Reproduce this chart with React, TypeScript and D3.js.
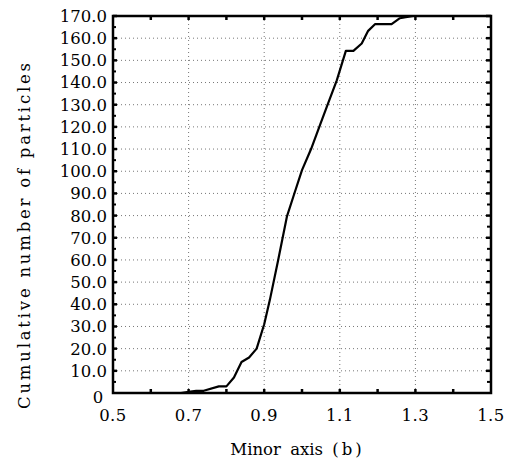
import React from "react";
import * as d3 from "d3";

const xValues = [0.5, 0.68, 0.70, 0.72, 0.74, 0.78, 0.80, 0.82, 0.84, 0.86, 0.88, 0.90, 0.915, 0.937, 0.96, 0.977, 1.0, 1.024, 1.048, 1.07, 1.092, 1.116, 1.136, 1.158, 1.175, 1.193, 1.237, 1.259, 1.294, 1.5];
const yValues = [0, 0, 0.5, 1, 1, 3, 3, 7, 14, 16, 20, 31, 42, 60, 79.5, 88.5, 100.5, 110, 121, 131, 141, 154.3, 154.3, 157.6, 163.3, 166.3, 166.3, 169, 170, 170];
const xTickLabels = [0.5, 0.7, 0.9, 1.1, 1.3, 1.5];
const xMinorTicks = [0.6, 0.7, 0.8, 0.9, 1.0, 1.1, 1.2, 1.3, 1.4];
const yTickLabels = [10, 20, 30, 40, 50, 60, 70, 80, 90, 100, 110, 120, 130, 140, 150, 160, 170];
const yMinorTicks = [5, 15, 25, 35, 45, 55, 65, 75, 85, 95, 105, 115, 125, 135, 145, 155, 165];
const xGrid = [0.7, 0.9, 1.1, 1.3];

const L = 113, R = 491, T = 16, B = 393;

export default function App() {
  const x = d3.scaleLinear().domain([0.5, 1.5]).range([L, R]);
  const y = d3.scaleLinear().domain([0, 170]).range([B, T]);
  const pts: [number, number][] = xValues.map((v, i) => [v, yValues[i]]);
  const line = d3.line<[number, number]>().x(d => x(d[0])).y(d => y(d[1]));
  const fs = { fontFamily: "'DejaVu Serif', serif" };
  return (
    <svg width={508} height={461} style={{ position: "absolute", left: 0, top: 0, background: "#fff" }}>
      <rect x={0} y={0} width={508} height={461} fill="#fff" />
      {yTickLabels.slice(0, -1).map(v => (
        <line key={"gy" + v} x1={L} x2={R} y1={y(v)} y2={y(v)} stroke="#777" strokeWidth={1} strokeDasharray="1,3" />
      ))}
      {xGrid.map(v => (
        <line key={"gx" + v} x1={x(v)} x2={x(v)} y1={T} y2={B} stroke="#777" strokeWidth={1} strokeDasharray="1,3" />
      ))}
      <path d={line(pts) || ""} fill="none" stroke="#000" strokeWidth={2.2} strokeLinejoin="round" />
      <rect x={L} y={T} width={R - L} height={B - T} fill="none" stroke="#000" strokeWidth={2.5} />
      {yTickLabels.map(v => (
        <g key={"yt" + v}>
          <line x1={L} x2={L + 4} y1={y(v)} y2={y(v)} stroke="#000" strokeWidth={2.5} />
          <line x1={R} x2={R - 5} y1={y(v)} y2={y(v)} stroke="#000" strokeWidth={2.5} />
        </g>
      ))}
      {yMinorTicks.map(v => (
        <g key={"ym" + v}>
          <line x1={L} x2={L + 3} y1={y(v)} y2={y(v)} stroke="#000" strokeWidth={2} />
          <line x1={R} x2={R - 4} y1={y(v)} y2={y(v)} stroke="#000" strokeWidth={2} />
        </g>
      ))}
      {xMinorTicks.map(v => (
        <g key={"xt" + v}>
          <line x1={x(v)} x2={x(v)} y1={B} y2={B - 4} stroke="#000" strokeWidth={2.5} />
          <line x1={x(v)} x2={x(v)} y1={T} y2={T + 4} stroke="#000" strokeWidth={2.5} />
        </g>
      ))}
      {yTickLabels.map(v => (
        <text key={"yl" + v} x={107} y={y(v)} dy="0.36em" textAnchor="end" style={fs} fontSize={16.5} fill="#000">
          {d3.format(".1f")(v)}
        </text>
      ))}
      <text x={98} y={y(0) + 4} dy="0.36em" textAnchor="middle" style={fs} fontSize={16.5} fill="#000">0</text>
      {xTickLabels.map(v => (
        <text key={"xl" + v} x={x(v)} y={421} textAnchor="middle" style={fs} fontSize={16.5} letterSpacing={0.5} fill="#000">
          {d3.format(".1f")(v)}
        </text>
      ))}
      <text x={296} y={455} textAnchor="middle" style={fs} fontSize={16.5} wordSpacing={4} fill="#000">
        Minor axis (<tspan dx={3}>b</tspan><tspan dx={3}>)</tspan>
      </text>
      <text transform="translate(30,236) rotate(-90)" textAnchor="middle" style={fs} fontSize={16.5} textLength={346} lengthAdjust="spacing" fill="#000">
        Cumulative number of particles
      </text>
    </svg>
  );
}
